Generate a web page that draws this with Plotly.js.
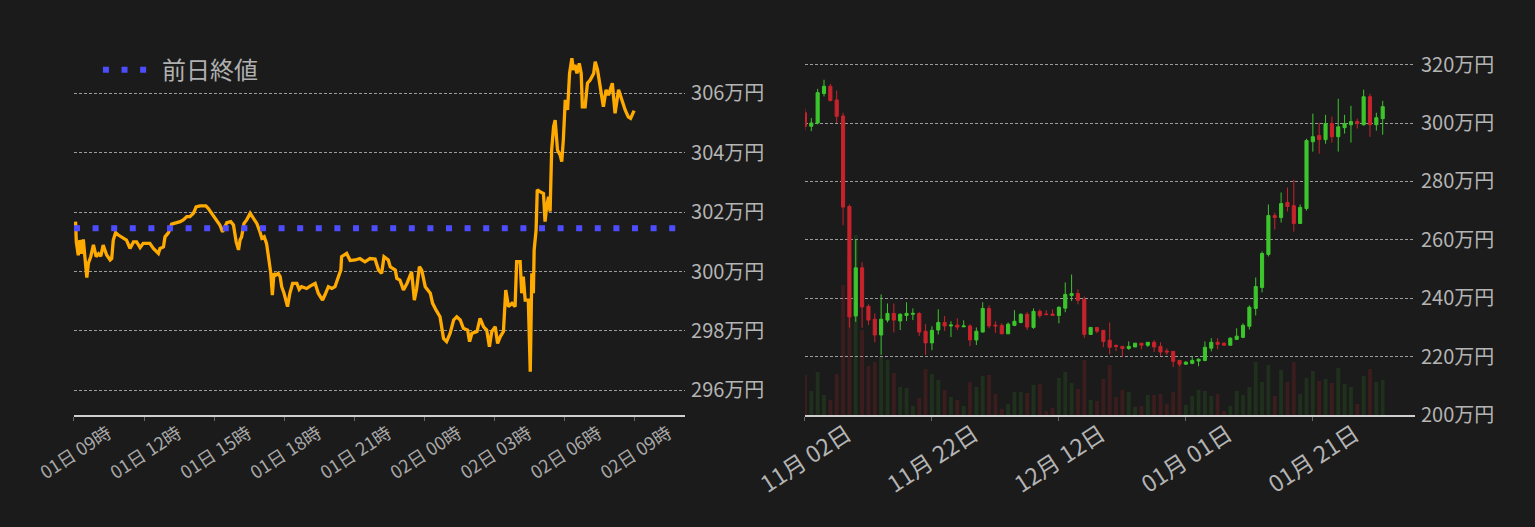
<!DOCTYPE html>
<html>
<head>
<meta charset="utf-8">
<script src="https://cdn.plot.ly/plotly-3.0.1.min.js"></script>
<style>
  html, body { margin: 0; padding: 0; background: #1b1b1b; }
  #chart { width: 1535px; height: 527px; }
</style>
</head>
<body>
<div id="chart"></div>
<script>
// intraday price (万円), 2023-02-01 09:00 .. 2023-02-02 09:00
var intradayTimes = [
  '2023-02-01 09:04','2023-02-01 09:06','2023-02-01 09:11','2023-02-01 09:15','2023-02-01 09:20','2023-02-01 09:24',
  '2023-02-01 09:28','2023-02-01 09:33','2023-02-01 09:37','2023-02-01 09:43','2023-02-01 09:50','2023-02-01 09:57',
  '2023-02-01 10:03','2023-02-01 10:09','2023-02-01 10:15','2023-02-01 10:24','2023-02-01 10:33','2023-02-01 10:37',
  '2023-02-01 10:41','2023-02-01 10:47','2023-02-01 10:54','2023-02-01 11:07','2023-02-01 11:15','2023-02-01 11:24',
  '2023-02-01 11:33','2023-02-01 11:41','2023-02-01 11:50','2023-02-01 11:58','2023-02-01 12:15','2023-02-01 12:24',
  '2023-02-01 12:37','2023-02-01 12:41','2023-02-01 12:50','2023-02-01 12:54','2023-02-01 13:03','2023-02-01 13:11',
  '2023-02-01 13:24','2023-02-01 13:33','2023-02-01 13:41','2023-02-01 13:50','2023-02-01 13:58','2023-02-01 14:07',
  '2023-02-01 14:14','2023-02-01 14:24','2023-02-01 14:39','2023-02-01 14:45','2023-02-01 14:54','2023-02-01 15:03',
  '2023-02-01 15:15','2023-02-01 15:22','2023-02-01 15:33','2023-02-01 15:43','2023-02-01 15:50','2023-02-01 15:57',
  '2023-02-01 16:03','2023-02-01 16:07','2023-02-01 16:11','2023-02-01 16:17','2023-02-01 16:24','2023-02-01 16:33',
  '2023-02-01 16:39','2023-02-01 16:45','2023-02-01 16:50','2023-02-01 16:58','2023-02-01 17:03','2023-02-01 17:09',
  '2023-02-01 17:15','2023-02-01 17:20','2023-02-01 17:26','2023-02-01 17:30','2023-02-01 17:34','2023-02-01 17:39',
  '2023-02-01 17:45','2023-02-01 17:50','2023-02-01 17:54','2023-02-01 18:00','2023-02-01 18:05','2023-02-01 18:09',
  '2023-02-01 18:15','2023-02-01 18:22','2023-02-01 18:33','2023-02-01 18:39','2023-02-01 18:45','2023-02-01 18:58',
  '2023-02-01 19:07','2023-02-01 19:20','2023-02-01 19:28','2023-02-01 19:39','2023-02-01 19:45','2023-02-01 19:54',
  '2023-02-01 20:03','2023-02-01 20:11','2023-02-01 20:20','2023-02-01 20:26','2023-02-01 20:28','2023-02-01 20:41',
  '2023-02-01 20:50','2023-02-01 21:03','2023-02-01 21:15','2023-02-01 21:28','2023-02-01 21:41','2023-02-01 21:54',
  '2023-02-01 22:03','2023-02-01 22:11','2023-02-01 22:17','2023-02-01 22:28','2023-02-01 22:33','2023-02-01 22:46',
  '2023-02-01 22:50','2023-02-01 22:58','2023-02-01 23:07','2023-02-01 23:16','2023-02-01 23:28','2023-02-01 23:35',
  '2023-02-01 23:41','2023-02-01 23:48','2023-02-01 23:54','2023-02-02 00:03','2023-02-02 00:16','2023-02-02 00:22',
  '2023-02-02 00:31','2023-02-02 00:41','2023-02-02 00:50','2023-02-02 00:58','2023-02-02 01:07','2023-02-02 01:16',
  '2023-02-02 01:24','2023-02-02 01:33','2023-02-02 01:41','2023-02-02 01:52','2023-02-02 01:57','2023-02-02 02:03',
  '2023-02-02 02:16','2023-02-02 02:24','2023-02-02 02:33','2023-02-02 02:41','2023-02-02 02:48','2023-02-02 02:54',
  '2023-02-02 03:03','2023-02-02 03:09','2023-02-02 03:16','2023-02-02 03:24','2023-02-02 03:30','2023-02-02 03:37',
  '2023-02-02 03:46','2023-02-02 03:54','2023-02-02 03:58','2023-02-02 04:07','2023-02-02 04:11','2023-02-02 04:15',
  '2023-02-02 04:20','2023-02-02 04:28','2023-02-02 04:33','2023-02-02 04:37','2023-02-02 04:41','2023-02-02 04:43',
  '2023-02-02 04:48','2023-02-02 04:51','2023-02-02 04:58','2023-02-02 05:07','2023-02-02 05:11','2023-02-02 05:15',
  '2023-02-02 05:20','2023-02-02 05:24','2023-02-02 05:28','2023-02-02 05:33','2023-02-02 05:37','2023-02-02 05:43',
  '2023-02-02 05:50','2023-02-02 05:54','2023-02-02 05:58','2023-02-02 06:03','2023-02-02 06:09','2023-02-02 06:14',
  '2023-02-02 06:20','2023-02-02 06:24','2023-02-02 06:28','2023-02-02 06:33','2023-02-02 06:39','2023-02-02 06:44',
  '2023-02-02 06:47','2023-02-02 06:54','2023-02-02 07:00','2023-02-02 07:07','2023-02-02 07:16','2023-02-02 07:20',
  '2023-02-02 07:26','2023-02-02 07:33','2023-02-02 07:41','2023-02-02 07:48','2023-02-02 07:54','2023-02-02 08:04',
  '2023-02-02 08:11','2023-02-02 08:20','2023-02-02 08:28','2023-02-02 08:37','2023-02-02 08:45','2023-02-02 08:51',
  '2023-02-02 09:00'
];
var intradayPrices = [
  301.68,301.0,300.55,301.06,300.6,301.08,
  300.5,299.8,300.28,300.5,300.9,300.5,
  300.6,300.52,300.89,300.56,300.39,300.44,
  301.06,301.31,301.23,301.12,301.06,300.78,
  301.0,301.0,300.81,300.95,300.95,300.78,
  300.61,300.78,300.83,301.17,301.31,301.6,
  301.65,301.68,301.74,301.85,301.85,301.96,
  302.18,302.21,302.21,302.13,301.96,301.79,
  301.57,301.34,301.65,301.68,301.57,301.0,
  300.73,301.06,301.17,301.62,301.74,301.96,
  301.85,301.74,301.62,301.34,301.12,301.17,
  300.95,300.5,299.94,299.21,299.94,299.88,
  299.94,299.83,299.49,299.27,299.04,298.82,
  299.27,299.6,299.6,299.4,299.49,299.43,
  299.51,299.6,299.27,299.04,299.21,299.49,
  299.43,299.49,299.83,300.05,300.5,300.61,
  300.37,300.39,300.44,300.33,300.44,300.42,
  300.05,299.94,300.5,300.39,300.16,300.05,
  299.77,299.71,299.38,299.6,299.99,299.04,
  299.43,300.16,300.05,299.49,299.27,298.93,
  298.7,298.48,297.75,297.64,297.92,298.37,
  298.48,298.37,298.09,298.03,297.64,297.92,
  297.98,298.42,298.14,298.03,297.47,297.98,
  298.14,297.58,297.81,297.98,299.38,298.82,
  298.93,298.82,300.33,300.33,299.27,299.83,
  299.04,299.04,296.63,299.94,299.27,300.72,
  301.4,302.75,302.69,302.63,301.68,302.18,
  302.52,302.02,304.09,304.88,305.1,304.09,
  303.92,303.7,304.43,305.78,305.44,306.67,
  307.18,306.79,306.96,306.67,307.01,306.67,
  305.55,305.55,306.34,306.45,306.67,307.07,
  306.79,306.28,305.55,306.12,305.94,306.34,
  305.33,306.12,305.78,305.44,305.21,305.16,
  305.42
];
var prevClose = 301.46;
var prevCloseName = '前日終値';
var intradayRange = ['2023-02-01 09:00', '2023-02-02 11:11'];

// daily candles (万円)
var candleDates = [
  '2022-11-02','2022-11-03','2022-11-04','2022-11-05','2022-11-06','2022-11-07','2022-11-08','2022-11-09',
  '2022-11-10','2022-11-11','2022-11-12','2022-11-13','2022-11-14','2022-11-15','2022-11-16','2022-11-17',
  '2022-11-18','2022-11-19','2022-11-20','2022-11-21','2022-11-22','2022-11-23','2022-11-24','2022-11-25',
  '2022-11-26','2022-11-27','2022-11-28','2022-11-29','2022-11-30','2022-12-01','2022-12-02','2022-12-03',
  '2022-12-04','2022-12-05','2022-12-06','2022-12-07','2022-12-08','2022-12-09','2022-12-10','2022-12-11',
  '2022-12-12','2022-12-13','2022-12-14','2022-12-15','2022-12-16','2022-12-17','2022-12-18','2022-12-19',
  '2022-12-20','2022-12-21','2022-12-22','2022-12-23','2022-12-24','2022-12-25','2022-12-26','2022-12-27',
  '2022-12-28','2022-12-29','2022-12-30','2022-12-31','2023-01-01','2023-01-02','2023-01-03','2023-01-04',
  '2023-01-05','2023-01-06','2023-01-07','2023-01-08','2023-01-09','2023-01-10','2023-01-11','2023-01-12',
  '2023-01-13','2023-01-14','2023-01-15','2023-01-16','2023-01-17','2023-01-18','2023-01-19','2023-01-20',
  '2023-01-21','2023-01-22','2023-01-23','2023-01-24','2023-01-25','2023-01-26','2023-01-27','2023-01-28',
  '2023-01-29','2023-01-30','2023-01-31','2023-02-01'
];
var openPrices = [
  303.5,298.9,300.0,310.1,312.6,307.9,302.4,271.4,233.9,250.4,237.2,232.8,227.4,232.5,234.8,232.2,
  234.1,234.5,234.8,228.7,224.7,229.1,231.7,230.5,230.8,230.2,230.5,225.7,228.4,236.5,230.8,230.7,
  227.8,230.7,231.7,234.5,230.0,235.5,234.6,234.6,234.1,236.6,240.9,241.6,239.6,227.6,230.0,229.0,
  225.6,223.8,223.5,222.8,223.3,224.6,223.9,224.9,223.5,221.9,221.8,218.7,217.4,217.7,218.5,218.7,
  222.9,224.9,224.6,223.9,225.9,226.6,230.4,236.5,243.7,255.0,268.3,267.6,272.8,271.7,265.6,270.7,
  293.6,295.7,294.3,299.8,295.3,298.4,299.4,300.5,299.4,309.0,299.4,301.5
];
var highPrices = [
  304.9,301.7,311.7,314.8,313.4,311.1,303.5,272.1,260.0,252.3,237.9,234.8,241.3,238.2,238.2,234.8,
  238.6,236.5,235.2,231.1,230.4,236.2,233.9,232.1,233.1,232.4,231.1,230.0,238.6,237.5,232.1,231.4,
  231.7,235.9,234.8,235.2,236.5,236.2,235.9,236.2,237.2,245.4,248.1,243.0,240.6,230.0,230.0,229.0,
  231.7,224.2,223.5,225.2,224.6,224.6,224.9,225.6,224.9,222.8,221.8,218.7,218.4,219.9,219.4,225.2,
  226.3,226.3,224.9,226.6,229.7,231.4,237.5,247.1,256.0,272.1,269.3,276.2,277.9,280.6,272.1,294.6,
  303.2,300.1,302.8,302.2,308.3,302.8,305.9,301.5,311.4,310.0,303.5,307.6
];
var lowPrices = [
  297.5,297.2,299.5,309.1,307.4,300.0,265.0,229.9,231.9,229.9,230.8,224.9,220.6,231.7,228.3,229.1,
  232.2,232.5,227.1,220.6,222.2,227.6,228.8,226.7,229.1,230.1,223.6,224.0,228.4,229.7,228.1,227.8,
  227.8,230.4,231.4,229.1,229.5,233.2,234.1,233.9,231.4,235.2,239.0,237.9,226.4,227.4,228.0,223.3,
  220.8,221.9,220.0,222.3,223.3,222.5,223.3,221.6,220.2,220.6,216.4,216.7,217.2,217.4,216.7,218.4,
  221.8,222.5,223.9,223.9,225.9,226.3,229.3,234.1,242.0,254.3,263.5,265.9,269.7,262.8,265.6,270.0,
  290.2,289.5,292.9,293.3,290.2,296.4,293.3,298.1,299.1,295.3,297.4,296.0
];
var closePrices = [
  298.9,300.0,310.4,312.6,307.7,302.3,271.2,233.6,250.4,237.0,232.5,227.4,232.8,234.8,232.5,234.5,
  234.8,234.8,228.4,224.7,229.0,231.7,230.5,230.8,230.1,230.5,225.7,228.7,236.5,230.5,230.5,227.8,
  231.1,232.1,234.5,230.1,235.5,234.1,234.4,234.1,236.9,241.3,241.6,239.3,227.6,230.0,228.7,225.2,
  223.2,223.5,222.8,223.5,224.6,223.9,224.9,223.3,221.6,221.6,218.4,217.4,218.1,218.7,219.1,223.2,
  224.9,224.2,223.9,226.3,227.0,230.7,236.9,244.0,255.3,268.3,267.6,272.4,271.4,265.6,271.1,294.0,
  295.3,294.3,299.8,295.3,298.7,299.8,300.5,299.8,309.0,299.4,301.8,305.6
];
var volumes = [
  40,24,43,20,15,41,130,160,180,85,49,53,58,55,42,28,
  27,9,17,46,41,35,25,18,15,9,33,28,39,40,21,6,
  11,23,23,22,30,31,4,7,37,43,32,26,55,15,14,36,
  50,18,25,23,8,9,20,20,21,11,23,50,10,19,25,24,
  19,21,4,9,24,20,28,53,33,50,19,45,33,53,21,37,
  44,34,36,32,47,31,28,11,39,46,33,35
];
var candleRange = ['2022-11-02', '2023-02-06 02:00'];

var upColor = '#3cc62c';
var downColor = '#c8232c';
var volColors = [];
for (var i = 0; i < closePrices.length; i++) {
  volColors.push(closePrices[i] >= openPrices[i] ? 'rgba(60,200,40,0.13)' : 'rgba(220,40,50,0.17)');
}

var lineTrace = {
  x: intradayTimes,
  y: intradayPrices,
  type: 'scatter',
  mode: 'lines',
  line: {color: '#ffaa00', width: 3.3},
  xaxis: 'x', yaxis: 'y',
  showlegend: false,
  hoverinfo: 'none'
};
var prevTrace = {
  x: intradayRange,
  y: [prevClose, prevClose],
  type: 'scatter',
  mode: 'lines',
  name: prevCloseName,
  line: {color: '#4d4dff', width: 6, dash: '6px,12.6px'},
  xaxis: 'x', yaxis: 'y',
  showlegend: true,
  hoverinfo: 'none'
};
var volTrace = {
  x: candleDates,
  y: volumes,
  type: 'bar',
  marker: {color: volColors, line: {width: 0}},
  xaxis: 'x2', yaxis: 'y2',
  showlegend: false,
  hoverinfo: 'none'
};
var candleTrace = {
  x: candleDates,
  open: openPrices,
  high: highPrices,
  low: lowPrices,
  close: closePrices,
  type: 'candlestick',
  increasing: {line: {color: upColor, width: 1}, fillcolor: upColor},
  decreasing: {line: {color: downColor, width: 1}, fillcolor: downColor},
  xaxis: 'x2', yaxis: 'y3',
  showlegend: false,
  hoverinfo: 'none'
};

var gridCol = 'rgba(200,200,200,0.75)';
var layout = {
  width: 1535,
  height: 527,
  margin: {l: 0, r: 0, t: 0, b: 0, pad: 0},
  paper_bgcolor: '#1b1b1b',
  plot_bgcolor: '#1b1b1b',
  font: {family: '"Noto Sans CJK JP", "Noto Sans", sans-serif', color: '#b4b4b4'},
  bargap: 0.4,
  showlegend: true,
  legend: {
    x: 0.0638, y: 0.867, xanchor: 'left', yanchor: 'middle',
    bgcolor: 'rgba(0,0,0,0)',
    font: {size: 24, color: '#b0b0b0'},
    itemwidth: 54
  },
  xaxis: {
    domain: [0.0482, 0.4463],
    anchor: 'y',
    type: 'date',
    range: intradayRange,
    tick0: '2023-02-01 09:00',
    dtick: 10800000,
    tickformat: '%d日 %H時',
    tickangle: -33,
    tickfont: {size: 18, color: '#a8a8a8'},
    ticklabelshift: 34,
    ticklabelstandoff: -5,
    showgrid: false,
    zeroline: false,
    showline: true,
    linecolor: '#cfcfcf',
    linewidth: 2,
    ticks: 'outside',
    ticklen: 4,
    tickcolor: '#666',
    fixedrange: true
  },
  yaxis: {
    domain: [0.2125, 0.9051],
    anchor: 'x',
    side: 'right',
    range: [295.17, 307.46],
    tick0: 296,
    dtick: 2,
    ticksuffix: '万円',
    tickfont: {size: 20, color: '#b4b4b4'},
    ticklabelstandoff: 5,
    showgrid: true,
    gridcolor: gridCol,
    gridwidth: 1,
    griddash: '3px,2px',
    zeroline: false,
    showline: false,
    ticks: '',
    fixedrange: true
  },
  xaxis2: {
    domain: [0.5244, 0.9218],
    anchor: 'y2',
    type: 'date',
    range: candleRange,
    tick0: '2022-11-02',
    dtick: 20 * 86400000,
    tickformat: '%m月 %d日',
    tickangle: -33,
    tickfont: {size: 23, color: '#b4b4b4'},
    ticklabelshift: 42,
    ticklabelstandoff: -9,
    showgrid: false,
    zeroline: false,
    showline: true,
    linecolor: '#cfcfcf',
    linewidth: 2,
    ticks: 'outside',
    ticklen: 4,
    tickcolor: '#666',
    rangeslider: {visible: false},
    fixedrange: true
  },
  yaxis2: {
    domain: [0.2125, 0.9051],
    anchor: 'x2',
    range: [0, 365],
    visible: false,
    showgrid: false,
    zeroline: false,
    fixedrange: true
  },
  yaxis3: {
    overlaying: 'y2',
    anchor: 'x2',
    side: 'right',
    range: [200, 325],
    tick0: 200,
    dtick: 20,
    ticksuffix: '万円',
    tickfont: {size: 20, color: '#b4b4b4'},
    ticklabelstandoff: 5,
    showgrid: true,
    gridcolor: gridCol,
    gridwidth: 1,
    griddash: '3px,2px',
    zeroline: false,
    showline: false,
    ticks: '',
    fixedrange: true
  }
};

Plotly.newPlot('chart', [lineTrace, prevTrace, volTrace, candleTrace], layout, {displayModeBar: false, staticPlot: true});
</script>
</body>
</html>
